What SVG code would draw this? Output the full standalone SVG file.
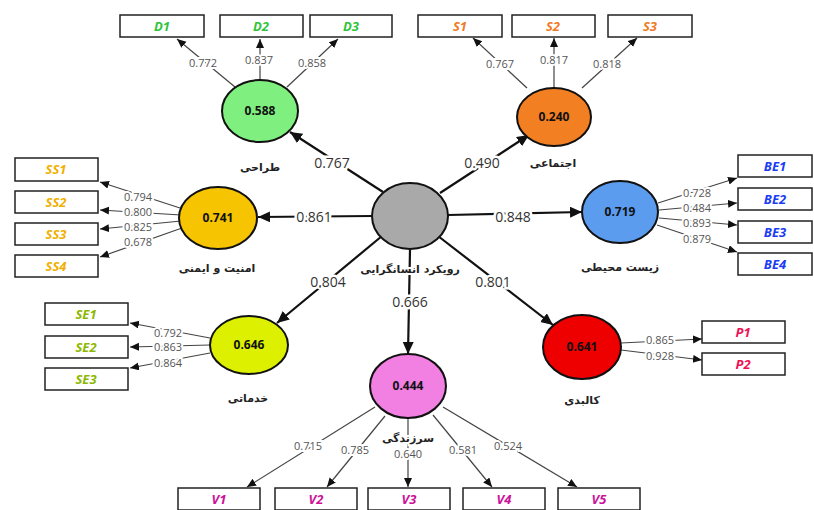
<svg xmlns="http://www.w3.org/2000/svg" width="814" height="510" viewBox="0 0 814 510">
<style>
.bg{fill:#ffffff}
.box{fill:#ffffff;stroke:#222;stroke-width:1.5}
.bt{font-family:"Open Sans","Liberation Sans",sans-serif;font-weight:bold;font-style:italic;font-size:13px;text-anchor:middle}
.lv{stroke:#111;stroke-width:2}
.val{font-family:"Open Sans","Liberation Sans",sans-serif;font-weight:bold;font-size:12px;text-anchor:middle;fill:#111}
.fa{font-family:"DejaVu Sans",sans-serif;font-weight:bold;font-size:11px;text-anchor:middle;fill:#222;stroke:#fff;stroke-width:4;paint-order:stroke}
.ld{stroke:#444;stroke-width:1.2;fill:none;marker-end:url(#a)}
.st{stroke:#111;stroke-width:2.2;fill:none;marker-end:url(#b)}
.ll{font-family:"Open Sans","Liberation Sans",sans-serif;font-size:11px;text-anchor:middle;fill:#555;stroke:#fff;stroke-width:4;paint-order:stroke}
.sl{font-family:"Open Sans","Liberation Sans",sans-serif;font-size:14px;text-anchor:middle;fill:#333;stroke:#fff;stroke-width:5;paint-order:stroke}
</style>
<defs>
<marker id="a" markerUnits="userSpaceOnUse" markerWidth="10" markerHeight="10" refX="9" refY="4" orient="auto"><path d="M0,0 L9,4 L0,8 z" fill="#111"/></marker>
<marker id="b" markerUnits="userSpaceOnUse" markerWidth="14" markerHeight="12" refX="12" refY="5.5" orient="auto"><path d="M0,0 L12,5.5 L0,11 z" fill="#111"/></marker>
</defs>
<rect class="bg" x="0" y="0" width="814" height="510"/>

<g id="connectors">
<line class="st" x1="383" y1="192" x2="290" y2="132"/>
<line class="st" x1="440" y1="193" x2="529" y2="135"/>
<line class="st" x1="372" y1="216" x2="258" y2="217"/>
<line class="st" x1="448" y1="215" x2="582" y2="212"/>
<line class="st" x1="382" y1="236" x2="277" y2="323"/>
<line class="st" x1="438" y1="236" x2="553" y2="325"/>
<line class="st" x1="410" y1="250" x2="408" y2="354"/>
<line class="ld" x1="235" y1="87" x2="177" y2="39"/>
<line class="ld" x1="260" y1="79" x2="260" y2="39"/>
<line class="ld" x1="287" y1="87" x2="338" y2="39"/>
<line class="ld" x1="527" y1="88" x2="473" y2="38"/>
<line class="ld" x1="554" y1="88" x2="554" y2="38"/>
<line class="ld" x1="582" y1="88" x2="637" y2="38"/>
<line class="ld" x1="180" y1="208" x2="100" y2="182"/>
<line class="ld" x1="181" y1="215" x2="100" y2="210"/>
<line class="ld" x1="181" y1="221" x2="100" y2="229"/>
<line class="ld" x1="182" y1="228" x2="100" y2="257"/>
<line class="ld" x1="658" y1="203" x2="737" y2="178"/>
<line class="ld" x1="659" y1="210" x2="737" y2="203"/>
<line class="ld" x1="659" y1="218" x2="737" y2="225"/>
<line class="ld" x1="657" y1="225" x2="737" y2="252"/>
<line class="ld" x1="210" y1="338" x2="130" y2="323"/>
<line class="ld" x1="210" y1="345" x2="130" y2="347"/>
<line class="ld" x1="210" y1="353" x2="130" y2="368"/>
<line class="ld" x1="621" y1="343" x2="702" y2="339"/>
<line class="ld" x1="621" y1="350" x2="702" y2="360"/>
<line class="ld" x1="375" y1="407" x2="247" y2="487"/>
<line class="ld" x1="385" y1="416" x2="327" y2="487"/>
<line class="ld" x1="408" y1="419" x2="408" y2="487"/>
<line class="ld" x1="433" y1="415" x2="492" y2="487"/>
<line class="ld" x1="443" y1="407" x2="577" y2="487"/>

<text class="sl" x="332" y="168">0.767</text>
<text class="sl" x="482" y="168">0.490</text>
<text class="sl" x="314" y="222">0.861</text>
<text class="sl" x="513" y="222">0.848</text>
<text class="sl" x="328" y="287">0.804</text>
<text class="sl" x="493" y="287">0.801</text>
<text class="sl" x="410" y="307">0.666</text>
<text class="ll" x="203" y="67">0.772</text>
<text class="ll" x="259" y="64">0.837</text>
<text class="ll" x="312" y="67">0.858</text>
<text class="ll" x="500" y="68">0.767</text>
<text class="ll" x="554" y="64">0.817</text>
<text class="ll" x="607" y="68">0.818</text>
<text class="ll" x="138" y="201">0.794</text>
<text class="ll" x="138" y="216">0.800</text>
<text class="ll" x="138" y="231">0.825</text>
<text class="ll" x="138" y="246">0.678</text>
<text class="ll" x="697" y="197">0.728</text>
<text class="ll" x="697" y="212">0.484</text>
<text class="ll" x="697" y="227">0.893</text>
<text class="ll" x="697" y="243">0.879</text>
<text class="ll" x="168" y="337">0.792</text>
<text class="ll" x="168" y="351">0.863</text>
<text class="ll" x="168" y="367">0.864</text>
<text class="ll" x="660" y="344">0.865</text>
<text class="ll" x="660" y="360">0.928</text>
<text class="ll" x="308" y="450">0.715</text>
<text class="ll" x="355" y="454">0.785</text>
<text class="ll" x="408" y="458">0.640</text>
<text class="ll" x="463" y="454">0.581</text>
<text class="ll" x="508" y="450">0.524</text>
</g>

<g id="center">
<ellipse class="lv" cx="410" cy="216" rx="38" ry="33" fill="#a9a9a9"/>
<text class="fa" x="410" y="273">رویکرد انسانگرایی</text>
</g>
<g id="design">
<ellipse class="lv" cx="260" cy="111" rx="38" ry="31" fill="#7ff07f"/>
<text class="val" x="260" y="115">0.588</text>
<text class="fa" x="260" y="171">طراحی</text>
</g>
<g id="social">
<ellipse class="lv" cx="554" cy="117" rx="37" ry="29" fill="#f27f22"/>
<text class="val" x="554" y="121">0.240</text>
<text class="fa" x="553" y="167">اجتماعی</text>
</g>
<g id="safety">
<ellipse class="lv" cx="218" cy="218" rx="39" ry="31" fill="#f6c400"/>
<text class="val" x="218" y="222">0.741</text>
<text class="fa" x="217" y="272">امنیت و ایمنی</text>
</g>
<g id="environment">
<ellipse class="lv" cx="620" cy="212" rx="38" ry="31" fill="#5c9cee"/>
<text class="val" x="620" y="216">0.719</text>
<text class="fa" x="620" y="271">زیست محیطی</text>
</g>
<g id="services">
<ellipse class="lv" cx="249" cy="345" rx="39" ry="29" fill="#dcf000"/>
<text class="val" x="249" y="349">0.646</text>
<text class="fa" x="248" y="402">خدماتی</text>
</g>
<g id="physical">
<ellipse class="lv" cx="582" cy="347" rx="39" ry="32" fill="#ee0000"/>
<text class="val" x="582" y="351">0.641</text>
<text class="fa" x="582" y="404">کالبدی</text>
</g>
<g id="vitality">
<ellipse class="lv" cx="408" cy="386" rx="38" ry="32" fill="#f27fe2"/>
<text class="val" x="408" y="390">0.444</text>
<text class="fa" x="408" y="442">سرزندگی</text>
</g>

<g id="D1"><rect class="box" x="120" y="15" width="84" height="22"/><text class="bt" x="162" y="31" fill="#2fc43a">D1</text></g>
<g id="D2"><rect class="box" x="220" y="15" width="83" height="22"/><text class="bt" x="261" y="31" fill="#2fc43a">D2</text></g>
<g id="D3"><rect class="box" x="310" y="15" width="82" height="22"/><text class="bt" x="351" y="31" fill="#2fc43a">D3</text></g>
<g id="S1"><rect class="box" x="418" y="15" width="84" height="22"/><text class="bt" x="460" y="31" fill="#f07a1e">S1</text></g>
<g id="S2"><rect class="box" x="512" y="15" width="83" height="22"/><text class="bt" x="553" y="31" fill="#f07a1e">S2</text></g>
<g id="S3"><rect class="box" x="608" y="15" width="84" height="22"/><text class="bt" x="650" y="31" fill="#f07a1e">S3</text></g>
<g id="SS1"><rect class="box" x="15" y="158" width="83" height="23"/><text class="bt" x="56" y="174" fill="#f0b000">SS1</text></g>
<g id="SS2"><rect class="box" x="15" y="191" width="83" height="22"/><text class="bt" x="56" y="207" fill="#f0b000">SS2</text></g>
<g id="SS3"><rect class="box" x="15" y="223" width="83" height="22"/><text class="bt" x="56" y="239" fill="#f0b000">SS3</text></g>
<g id="SS4"><rect class="box" x="15" y="255" width="83" height="22"/><text class="bt" x="56" y="271" fill="#f0b000">SS4</text></g>
<g id="BE1"><rect class="box" x="738" y="155" width="74" height="22"/><text class="bt" x="775" y="171" fill="#1a3cf5">BE1</text></g>
<g id="BE2"><rect class="box" x="738" y="188" width="74" height="22"/><text class="bt" x="775" y="204" fill="#1a3cf5">BE2</text></g>
<g id="BE3"><rect class="box" x="738" y="221" width="74" height="22"/><text class="bt" x="775" y="237" fill="#1a3cf5">BE3</text></g>
<g id="BE4"><rect class="box" x="738" y="253" width="74" height="22"/><text class="bt" x="775" y="269" fill="#1a3cf5">BE4</text></g>
<g id="SE1"><rect class="box" x="45" y="303" width="83" height="22"/><text class="bt" x="86" y="319" fill="#8cb800">SE1</text></g>
<g id="SE2"><rect class="box" x="45" y="336" width="83" height="22"/><text class="bt" x="86" y="352" fill="#8cb800">SE2</text></g>
<g id="SE3"><rect class="box" x="45" y="368" width="83" height="22"/><text class="bt" x="86" y="384" fill="#8cb800">SE3</text></g>
<g id="P1"><rect class="box" x="702" y="321" width="83" height="22"/><text class="bt" x="743" y="337" fill="#ee1155">P1</text></g>
<g id="P2"><rect class="box" x="702" y="353" width="83" height="22"/><text class="bt" x="743" y="369" fill="#ee1155">P2</text></g>
<g id="V1"><rect class="box" x="178" y="488" width="82" height="22"/><text class="bt" x="219" y="504" fill="#cc1199">V1</text></g>
<g id="V2"><rect class="box" x="275" y="488" width="82" height="22"/><text class="bt" x="316" y="504" fill="#cc1199">V2</text></g>
<g id="V3"><rect class="box" x="368" y="488" width="82" height="22"/><text class="bt" x="409" y="504" fill="#cc1199">V3</text></g>
<g id="V4"><rect class="box" x="463" y="488" width="82" height="22"/><text class="bt" x="504" y="504" fill="#cc1199">V4</text></g>
<g id="V5"><rect class="box" x="558" y="488" width="82" height="22"/><text class="bt" x="599" y="504" fill="#cc1199">V5</text></g>
</svg>
